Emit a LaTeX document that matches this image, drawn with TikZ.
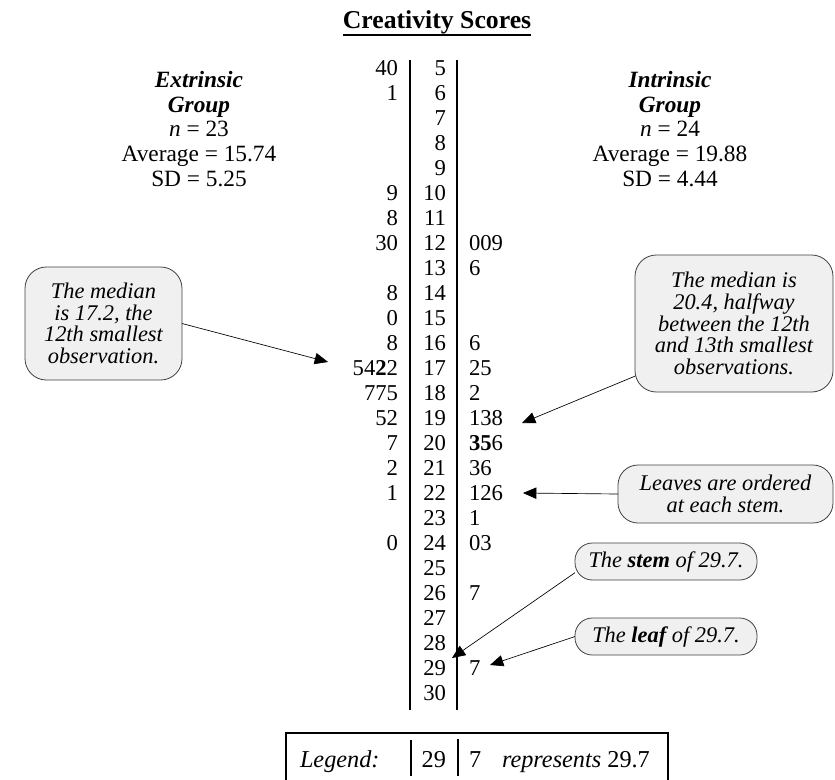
\documentclass[tikz,border=0pt]{standalone}
\usepackage{fontspec}
\setmainfont{Liberation Serif}
\usetikzlibrary{arrows.meta}
\begin{document}
\begin{tikzpicture}[x=0.75pt,y=-0.75pt,
  every node/.style={inner sep=0pt, outer sep=0pt},
  numfont/.style={font=\fontsize{17}{20}\selectfont},
  stemnum/.style={numfont, anchor=base east},
  lleaf/.style={numfont, anchor=base east},
  rleaf/.style={numfont, anchor=base west},
  hdr/.style={align=center, anchor=base, font=\fontsize{17.5}{18.4}\selectfont},
  callout/.style={draw=black!75, fill=black!6, line width=0.6pt, align=center,
    font=\fontsize{16.8}{16.3}\selectfont\itshape},
  arr/.style={-{Triangle[length=10pt,width=8.5pt]}, line width=0.5pt},
  rule/.style={line width=1pt},
  legfont/.style={font=\fontsize{18.2}{20}\selectfont, anchor=base west}]
\useasboundingbox (0,0) rectangle (835,779);
\clip (0,0) rectangle (835,779);

% title
\node[font=\fontsize{19.3}{22}\selectfont\bfseries, anchor=base] (title) at (437,28) {Creativity Scores};
\draw[line width=1.5pt] ([yshift=-5.25pt]title.base west) -- ([yshift=-5.25pt]title.base east);

% group headers (base = baseline of last line)
\node[hdr] (ext) at (199,186) {\textbf{\textit{Extrinsic}}\\ \textbf{\textit{Group}}\\ \textit{n} = 23\\ Average = 15.74\\ SD = 5.25};
\node[hdr] (int) at (670,186) {\textbf{\textit{Intrinsic}}\\ \textbf{\textit{Group}}\\ \textit{n} = 24\\ Average = 19.88\\ SD = 4.44};

% stem lines
\draw[rule] (410,60) -- (410,710);
\draw[rule] (457,60) -- (457,710);

% stems
\foreach \s in {5,...,30}
  \node[stemnum] (s\s) at (446,{75+25*(\s-5)}) {\s};

% left leaves (extrinsic)
\foreach \s/\l in {5/40,6/1,10/9,11/8,12/30,14/8,15/0,16/8,17/54\textbf{2}2,18/775,19/52,20/7,21/2,22/1,24/0}
  \node[lleaf] (l\s) at (398,{75+25*(\s-5)}) {\l};

% right leaves (intrinsic)
\foreach \s/\l in {12/009,13/6,16/6,17/25,18/2,19/138,20/\textbf{35}6,21/36,22/126,23/1,24/03,26/7,29/7}
  \node[rleaf] (r\s) at (469,{75+25*(\s-5)}) {\l};

% callouts
\node[callout, minimum width=117.75pt, minimum height=84.75pt, rounded corners=16pt] (med1) at (103.5,323.5)
  {The median\\ is 17.2, the\\ 12th smallest\\ observation.};
\node[callout, minimum width=148.5pt, minimum height=102.75pt, rounded corners=16pt] (med2) at (734,323.5)
  {The median is\\ 20.4, halfway\\ between the 12th\\ and 13th smallest\\ observations.};
\node[callout, minimum width=161.25pt, minimum height=43.5pt, rounded corners=15pt] (ord) at (725.5,494)
  {Leaves are ordered\\ at each stem.};
\node[callout, minimum width=136.5pt, minimum height=27.75pt, rounded corners=13pt] (stemc) at (666,561.5)
  {The \textbf{stem} of 29.7.};
\node[callout, minimum width=136.5pt, minimum height=27.75pt, rounded corners=13pt] (leafc) at (666,636.5)
  {The \textbf{leaf} of 29.7.};

% arrow targets
\coordinate (t1) at (328,362);
\coordinate (t2) at (522,423);
\coordinate (t3) at (523,493);
\coordinate (t4) at (452,658);
\coordinate (t5) at (490,665);

\draw[arr] (med1.east) -- (t1);
\draw[arr] (med2.208) -- (t2);
\draw[arr] (ord.west) -- (t3);
\draw[arr] (stemc.187) -- (t4);
\draw[arr] (leafc.west) -- (t5);

% legend
\node[draw, line width=1pt, minimum width=286.5pt, minimum height=40.5pt] (legend) at (477,760) {};
\draw[rule] (411,740) -- (411,776);
\draw[rule] (458,739) -- (458,776);
\node[legfont] (legl) at (300,767) {\textit{Legend:}};
\node[legfont, anchor=base east] (legs) at (446,767) {29};
\node[legfont] (legv) at (469,767) {7};
\node[legfont] (legr) at (502,767) {\textit{represents} 29.7};
\end{tikzpicture}
\end{document}
